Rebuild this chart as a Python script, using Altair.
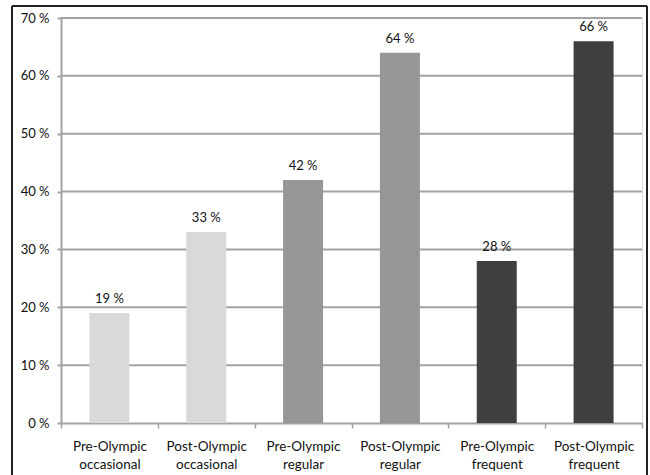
import altair as alt
import pandas as pd

# Share of respondents by activity level, before and after the Olympics
categories = [
    "Pre-Olympic occasional", "Post-Olympic occasional",
    "Pre-Olympic regular", "Post-Olympic regular",
    "Pre-Olympic frequent", "Post-Olympic frequent",
]
groups = ["occasional", "occasional", "regular", "regular", "frequent", "frequent"]
values = [19, 33, 42, 64, 28, 66]
y_ticks = [0, 10, 20, 30, 40, 50, 60, 70]

group_order = ["occasional", "regular", "frequent"]
group_colors = ["#d9d9d9", "#969696", "#3f3f3f"]

df = pd.DataFrame({"category": categories, "group": groups, "value": values})
grid_df = pd.DataFrame({"value": y_ticks[1:]})

FONT = "Lato"
GRID = "#a3a3a3"
TEXT = "#111111"
FRAME = "#222222"

y_scale = alt.Scale(domain=[0, 70], nice=False)
y_axis = alt.Axis(
    values=y_ticks,
    labelExpr="datum.value + ' %'",
    labelFontSize=13,
    labelFont=FONT,
    labelColor=TEXT,
    labelPadding=8,
    tickSize=4,
    tickColor=GRID,
    tickWidth=2,
    domainColor=GRID,
    domainWidth=2,
    grid=False,
)
y_enc = alt.Y("value:Q", title=None, scale=y_scale, axis=y_axis)

x_enc = alt.X(
    "category:N",
    sort=None,
    title=None,
    scale=alt.Scale(paddingInner=0, paddingOuter=0),
    axis=alt.Axis(
        labelAngle=0,
        labelExpr="split(datum.label, ' ')",
        labelLineHeight=18,
        labelFontSize=13.5,
        labelFont=FONT,
        labelColor=TEXT,
        labelPadding=11,
        tickBand="extent",
        tickSize=5,
        tickColor=GRID,
        tickWidth=1.5,
        domainColor=GRID,
        domainWidth=2,
        grid=False,
    ),
)

# Horizontal gridlines at each labelled percentage
grid = alt.Chart(grid_df).mark_rule(color=GRID, strokeWidth=2).encode(y=y_enc)

base = alt.Chart(df).encode(x=x_enc, y=y_enc)

bars = base.mark_bar(size=40).encode(
    color=alt.Color(
        "group:N",
        scale=alt.Scale(domain=group_order, range=group_colors),
        legend=None,
    )
)

labels = base.mark_text(dy=-14, fontSize=13, font=FONT, color=TEXT).encode(
    text=alt.Text("label:N")
).transform_calculate(label="datum.value + ' %'")

# Outer frame around the whole figure (left, top and right edges)
frame_left = alt.Chart(grid_df).mark_rule(color=FRAME, strokeWidth=1.2, clip=False).encode(
    x=alt.value(-49), y=alt.value(-12), y2=alt.value(470)
)
frame_top = alt.Chart(grid_df).mark_rule(color=FRAME, strokeWidth=1.2, clip=False).encode(
    x=alt.value(-49), x2=alt.value(586), y=alt.value(-12)
)
frame_right = alt.Chart(grid_df).mark_rule(color=FRAME, strokeWidth=1.2, clip=False).encode(
    x=alt.value(586), y=alt.value(-12), y2=alt.value(470)
)

chart = (
    alt.layer(grid, bars, labels, frame_left, frame_top, frame_right)
    .properties(
        width=581,
        height=405,
        autosize=alt.AutoSizeParams(type="none"),
        padding={"left": 61, "top": 18, "right": 8, "bottom": 52},
    )
    .configure_view(stroke=None)
    .configure(background="white")
)

chart.save("out.html", embed_options={"renderer": "svg", "actions": False})
